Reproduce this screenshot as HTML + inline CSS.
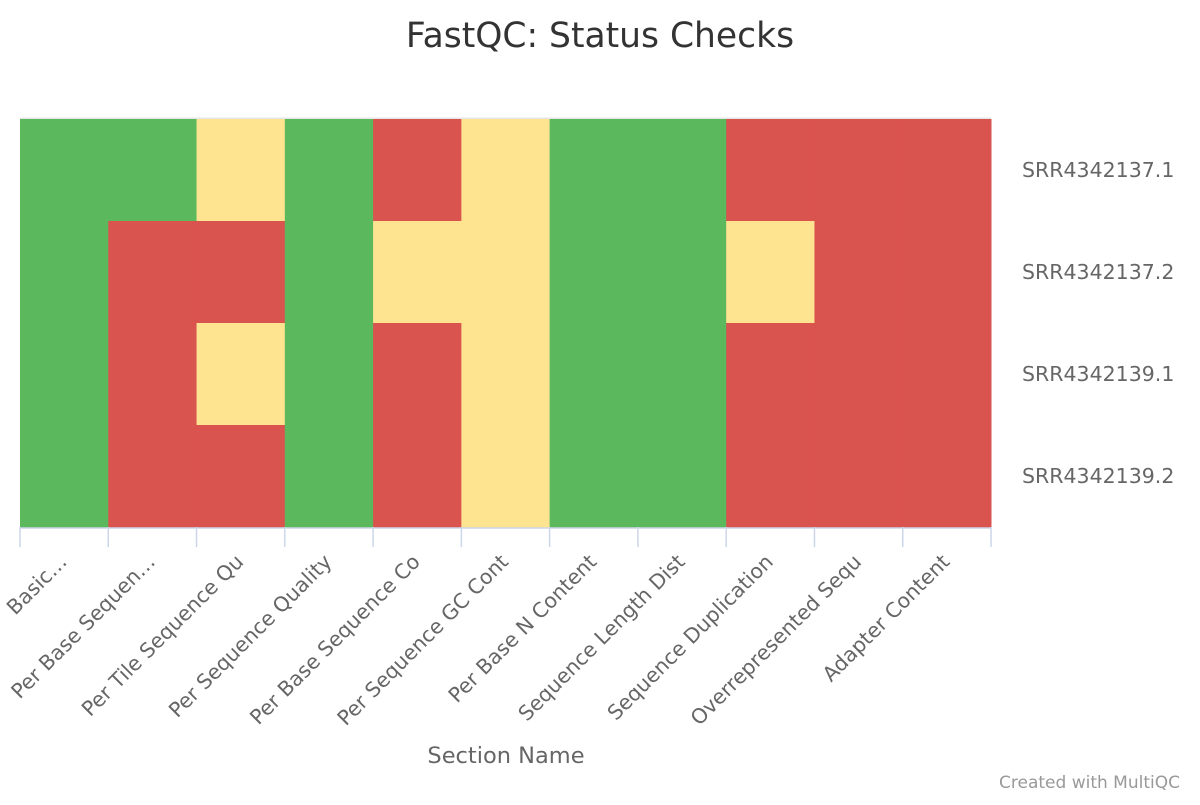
<!DOCTYPE html>
<html><head><meta charset="utf-8"><style>
body{margin:0;background:#fff;font-family:"Liberation Sans","DejaVu Sans",sans-serif}
svg text{font-family:"DejaVu Sans","Liberation Sans",sans-serif}
</style></head><body>
<svg id="chart" width="1200" height="800" xmlns="http://www.w3.org/2000/svg">
<text x="600" y="47" text-anchor="middle" font-size="34.5" fill="#333">FastQC: Status Checks</text>
<line x1="20" x2="991" y1="118.5" y2="118.5" stroke="#e6e6e6" stroke-width="2"/>
<g id="cells"></g>
<g id="xaxis"></g>
<g id="yaxis"></g>
<text x="506" y="763" text-anchor="middle" font-size="22.5" fill="#666">Section Name</text>
<text x="1180" y="788" text-anchor="end" font-size="17" fill="#999">Created with MultiQC</text>
</svg>
<script>
const categories = ["Basic…","Per Base Sequen…","Per Tile Sequence Qu","Per Sequence Quality","Per Base Sequence Co","Per Sequence GC Cont","Per Base N Content","Sequence Length Dist","Sequence Duplication","Overrepresented Sequ","Adapter Content"];
const samples = ["SRR4342137.1","SRR4342137.2","SRR4342139.1","SRR4342139.2"];
// 1 = pass, 0.5 = warn, 0 = fail
const row1 = [1,1,0.5,1,0,0.5,1,1,0,0,0];
const row2 = [1,0,0,1,0.5,0.5,1,1,0.5,0,0];
const row3 = [1,0,0.5,1,0,0.5,1,1,0,0,0];
const row4 = [1,0,0,1,0,0.5,1,1,0,0,0];
const values = [row1,row2,row3,row4];

const NS="http://www.w3.org/2000/svg";
const x0=20,x1=991,y0=119,y1=527;
const cw=(x1-x0)/categories.length, rh=(y1-y0)/samples.length;
const xPos=i=>x0+i*cw, yPos=j=>y0+j*rh;
const color=v=>v>=1?"#5cb85c":(v>=0.5?"#fee391":"#d9534f");
const cells=document.getElementById('cells');
values.forEach((row,j)=>row.forEach((v,i)=>{
  const r=document.createElementNS(NS,'rect');
  r.setAttribute('x',xPos(i));r.setAttribute('y',yPos(j));
  r.setAttribute('width',cw+0.5);r.setAttribute('height',rh+0.5);
  r.setAttribute('fill',color(v));
  
  
  cells.appendChild(r);
}));
const xa=document.getElementById('xaxis');
const base=document.createElementNS(NS,'line');
base.setAttribute('x1',x0);base.setAttribute('x2',x1);base.setAttribute('y1',y1+1);base.setAttribute('y2',y1+1);
base.setAttribute('stroke','#ccd6eb');base.setAttribute('stroke-width','1.5');


xa.appendChild(base);
for(let i=0;i<=categories.length;i++){
  const t=document.createElementNS(NS,'line');
  t.setAttribute('x1',xPos(i));t.setAttribute('x2',xPos(i));t.setAttribute('y1',y1);t.setAttribute('y2',y1+20);
  t.setAttribute('stroke','#ccd6eb');t.setAttribute('stroke-width','1.5');
  
  
  xa.appendChild(t);
}
categories.forEach((c,i)=>{
  const t=document.createElementNS(NS,'text');
  const cx=xPos(i)+cw/2+4, cy=y1+36;
  t.setAttribute('x',cx);t.setAttribute('y',cy);
  t.setAttribute('text-anchor','end');t.setAttribute('font-size','20.5');t.setAttribute('fill','#666');
  t.setAttribute('transform',`rotate(-45 ${cx} ${cy})`);
  t.textContent=c;
  
  
  xa.appendChild(t);
});
const ya=document.getElementById('yaxis');
samples.forEach((s,j)=>{
  const t=document.createElementNS(NS,'text');
  t.setAttribute('x',1022);t.setAttribute('y',yPos(j)+rh/2+7);
  t.setAttribute('font-size','20.5');t.setAttribute('fill','#666');
  t.textContent=s;
  
  
  ya.appendChild(t);
});
</script>
</body></html>
